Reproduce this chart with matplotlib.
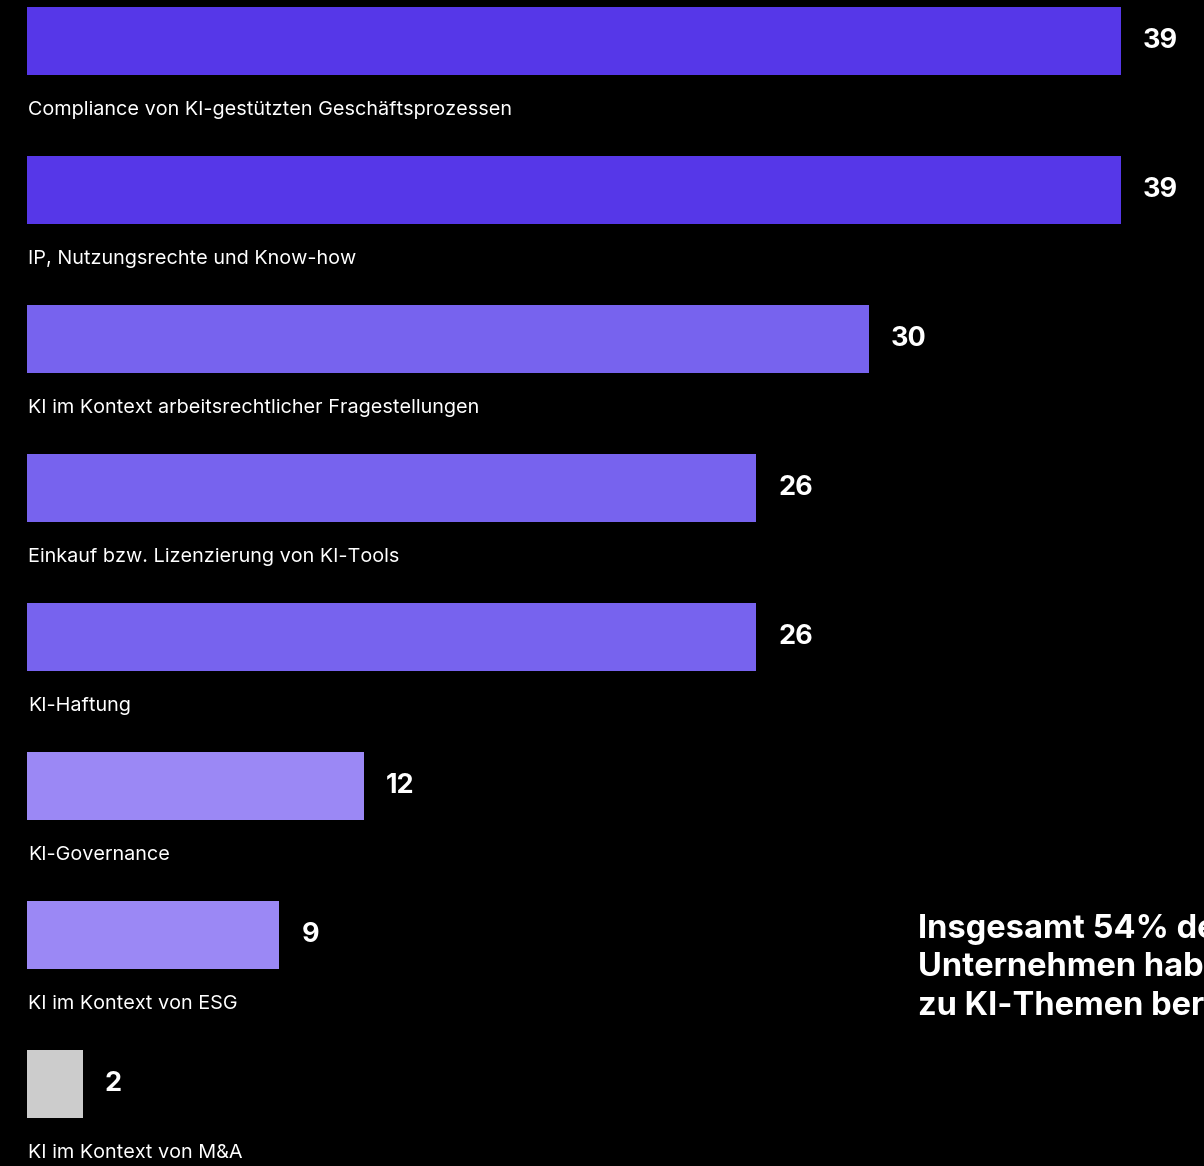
import matplotlib.pyplot as plt

plt.rcParams['font.family'] = ['Inter', 'DejaVu Sans']

categories = ['Compliance von KI-gestützten Geschäftsprozessen',
              'IP, Nutzungsrechte und Know-how',
              'KI im Kontext arbeitsrechtlicher Fragestellungen',
              'Einkauf bzw. Lizenzierung von KI-Tools',
              'KI-Haftung',
              'KI-Governance',
              'KI im Kontext von ESG',
              'KI im Kontext von M&A']
values = [39, 39, 30, 26, 26, 12, 9, 2]
bar_colors = ['#5637E8', '#5637E8', '#7763EE', '#7763EE', '#7763EE',
              '#9B88F5', '#9B88F5', '#CCCCCC']
note = 'Insgesamt 54% der\nUnternehmen haben sich\nzu KI-Themen beraten lassen'

fig = plt.figure(figsize=(12.04, 11.66), dpi=100, facecolor='black')
ax = fig.add_axes([0, 0, 1, 1])
ax.set_facecolor('black')

bar_h = 0.456
ypos = list(range(len(values)))
ax.barh(ypos, values, height=bar_h, left=0, color=bar_colors)

for y, v, lab in zip(ypos, values, categories):
    ax.text(v + 0.78, y, str(v), color='white', fontsize=19.5, fontweight='bold',
            va='center', ha='left')
    ax.text(0.04, y + 0.46, lab, color='white', fontsize=14.3, va='center', ha='left')

# side note, runs off the right edge like in the source
ax.text(31.76, 5.86, note, color='white', fontsize=23.5, fontweight='bold',
        va='top', ha='left', linespacing=1.3)

ax.set_xlim(-0.9626, 41.96)
ax.set_ylim(7.55, -0.275)
ax.axis('off')

fig.savefig('out.png', dpi=100, facecolor=fig.get_facecolor())
